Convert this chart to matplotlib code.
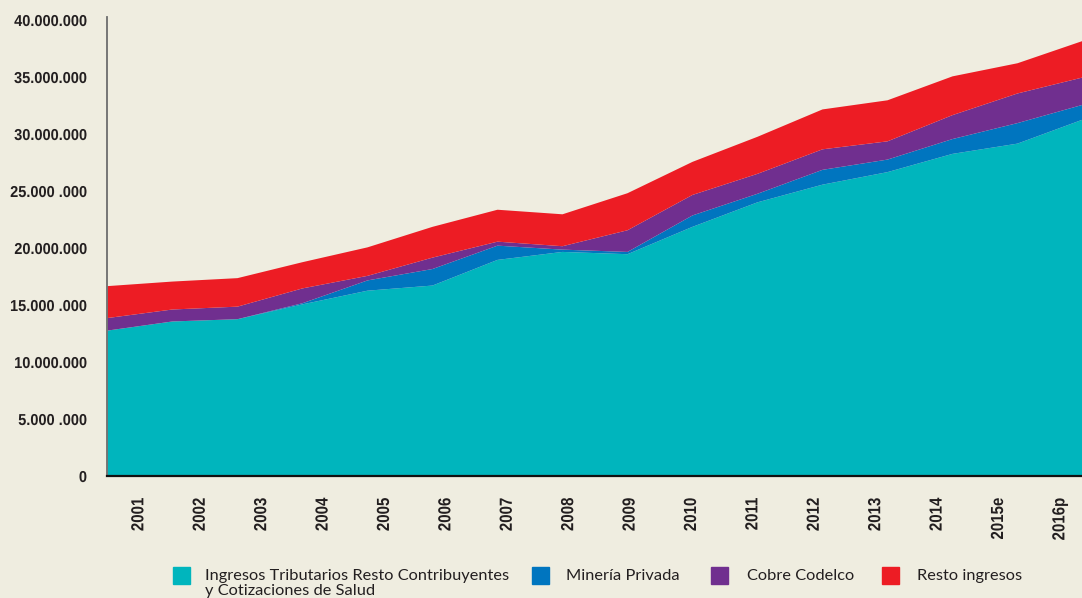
import numpy as np
import matplotlib.pyplot as plt
from matplotlib.patches import Rectangle
from matplotlib import patheffects as pe
from matplotlib.transforms import Affine2D

years = ['2001', '2002', '2003', '2004', '2005', '2006', '2007', '2008',
         '2009', '2010', '2011', '2012', '2013', '2014', '2015e', '2016p']

# valores (millones)
tributarios = [12.8, 13.6, 13.8, 15.1, 16.3, 16.75, 19.0, 19.7,
               19.5, 21.9, 24.05, 25.6, 26.7, 28.3, 29.2, 31.3]
mineria = [0.0, 0.0, 0.0, 0.1, 0.9, 1.45, 1.25, 0.2,
           0.2, 1.0, 0.75, 1.3, 1.1, 1.3, 1.8, 1.3]
codelco = [1.1, 1.05, 1.1, 1.3, 0.4, 1.0, 0.35, 0.3,
           1.9, 1.8, 1.75, 1.8, 1.6, 2.1, 2.6, 2.4]
resto = [2.8, 2.45, 2.5, 2.3, 2.5, 2.7, 2.8, 2.8,
         3.25, 2.9, 3.25, 3.5, 3.6, 3.4, 2.65, 3.2]

labels = ['Ingresos Tributarios Resto Contribuyentes\ny Cotizaciones de Salud',
          'Minería Privada', 'Cobre Codelco', 'Resto ingresos']
colors = ['#00b5bd', '#0075bf', '#702f8f', '#ed1c24']

yticks = [0, 5e6, 10e6, 15e6, 20e6, 25e6, 30e6, 35e6, 40e6]
yticklabels = ['0', '5.000 .000', '10.000.000', '15.000 .000', '20.000.000',
               '25.000 .000', '30.000.000', '35.000.000', '40.000.000']

bg = '#efede0'
ink = '#231f20'
leg_font = ['Lato', 'DejaVu Sans']
tick_font = ['Liberation Sans', 'DejaVu Sans']


class Squeeze(pe.AbstractPathEffect):
    """comprime el texto a lo ancho (no hay fuente condensada instalada)"""

    def __init__(self, sx):
        super().__init__()
        self.sx = sx

    def draw_path(self, renderer, gc, tpath, affine, rgbFace=None):
        a = tpath.get_extents().x1  # fija el final del texto
        sq = Affine2D().translate(-a, 0).scale(self.sx, 1).translate(a, 0)
        renderer.draw_path(gc, tpath, sq + affine, rgbFace)


fig = plt.figure(figsize=(10.82, 5.98), dpi=100, facecolor=bg)
W, H = 1082, 598
ax = fig.add_axes([107 / W, (H - 476) / H, 1 - 107 / W, (476 - 17) / H])
ax.set_facecolor(bg)

x = np.arange(len(years))
series = [np.array(s) * 1e6 for s in (tributarios, mineria, codelco, resto)]
polys = ax.stackplot(x, *series, colors=colors, linewidth=0)
for p in polys:
    p.set_edgecolor('face')

ax.set_xlim(0, len(years) - 1)
ax.set_ylim(0, (476 - 17) / 11.4 * 1e6)

ax.set_yticks(yticks)
ax.set_yticklabels(yticklabels, family=tick_font, weight='bold', fontsize=11.4,
                   color=ink)
for t in ax.get_yticklabels():
    t.set_path_effects([Squeeze(0.92)])
ax.set_xticks(np.linspace(0.49, 14.66, len(years)))
ax.set_xticklabels(years, rotation=90, family=tick_font, weight='bold',
                   fontsize=12.6, color=ink)
for t in ax.get_xticklabels():
    t.set_path_effects([Squeeze(0.86)])
ax.tick_params(axis='y', length=0, pad=14.4)
ax.tick_params(axis='x', length=0, pad=15.5)

for s in ('top', 'right'):
    ax.spines[s].set_visible(False)
ax.spines['left'].set_color('#6d6d6d')
ax.spines['left'].set_linewidth(1.3)
ax.spines['bottom'].set_color('#111111')
ax.spines['bottom'].set_linewidth(1.6)
ax.spines['bottom'].set_zorder(5)

# leyenda manual
sq_x = [173, 532, 711, 882]
txt_x = [205, 566, 747, 917]
for lab, col, sx, tx in zip(labels, colors, sq_x, txt_x):
    fig.patches.append(Rectangle((sx / W, (H - 584) / H), 17 / W, 17 / H,
                                 transform=fig.transFigure, color=col))
    fig.text(tx / W, (H - 569) / H, lab, va='top', ha='left',
             family=leg_font, fontsize=11.8, color=ink, linespacing=1.1)

fig.savefig('out.png', dpi=100, facecolor=bg)
